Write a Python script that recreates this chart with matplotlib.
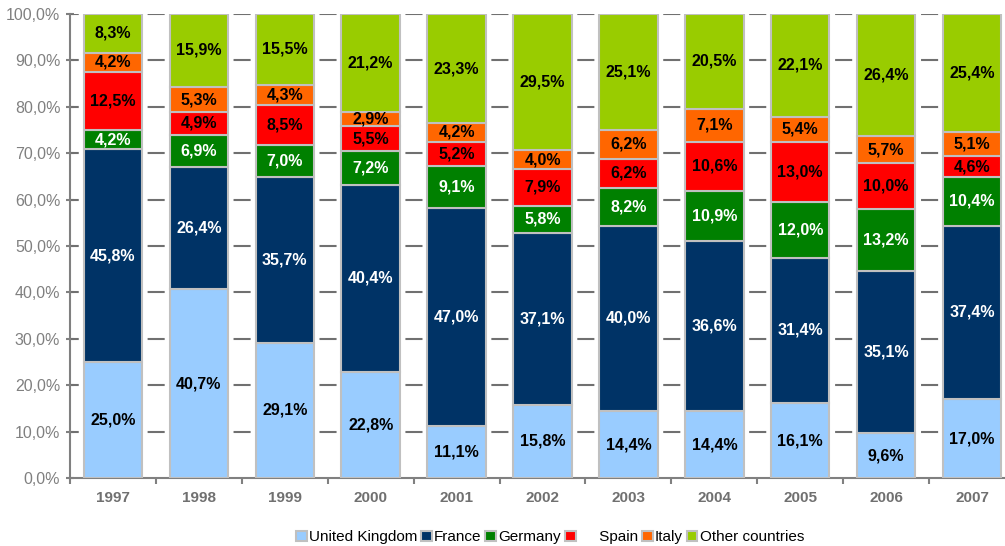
import numpy as np
import matplotlib.pyplot as plt

plt.rcParams['font.family'] = ['Liberation Sans', 'DejaVu Sans']

years = ['1997', '1998', '1999', '2000', '2001', '2002', '2003', '2004', '2005', '2006', '2007']
uk = [25.0, 40.7, 29.1, 22.8, 11.1, 15.8, 14.4, 14.4, 16.1, 9.6, 17.0]
france = [45.8, 26.4, 35.7, 40.4, 47.0, 37.1, 40.0, 36.6, 31.4, 35.1, 37.4]
germany = [4.2, 6.9, 7.0, 7.2, 9.1, 5.8, 8.2, 10.9, 12.0, 13.2, 10.4]
spain = [12.5, 4.9, 8.5, 5.5, 5.2, 7.9, 6.2, 10.6, 13.0, 10.0, 4.6]
italy = [4.2, 5.3, 4.3, 2.9, 4.2, 4.0, 6.2, 7.1, 5.4, 5.7, 5.1]
other = [8.3, 15.9, 15.5, 21.2, 23.3, 29.5, 25.1, 20.5, 22.1, 26.4, 25.4]

series = [
    ('United Kingdom', uk, '#99ccff', 'black'),
    ('France', france, '#003366', 'white'),
    ('Germany', germany, '#008000', 'white'),
    ('     Spain', spain, '#ff0000', 'black'),
    ('Italy', italy, '#ff6600', 'black'),
    ('Other countries', other, '#99cc00', 'black'),
]

fig = plt.figure(figsize=(10.05, 5.46), dpi=100)
# plot area runs past the right edge like in the original
ax = fig.add_axes([70 / 1005, (546 - 478) / 546, 945 / 1005, 464 / 546])

x = np.arange(len(years))
bottom = np.zeros(len(years))
for name, vals, color, tcol in series:
    vals = np.array(vals)
    ax.bar(x, vals, width=0.68, bottom=bottom, color=color, edgecolor='#c0c0c0',
           linewidth=1.5, label=name, zorder=3)
    for xi, b, v in zip(x, bottom, vals):
        ax.text(xi, b + v / 2, f'{v:.1f}%'.replace('.', ','), ha='center', va='center',
                color=tcol, fontsize=11.5, fontweight='bold', zorder=4)
    bottom += vals

ax.set_xlim(-0.5, len(years) - 0.5)
ax.set_ylim(0, 100)
ax.set_yticks(np.arange(0, 101, 10))
ax.set_yticklabels([f'{v},0%' for v in range(0, 101, 10)], color='#808080', fontsize=11.5)
ax.set_xticks(x)
ax.set_xticklabels(years, fontweight='bold', color='#707070', fontsize=11)
ax.set_xticks(np.arange(-0.5, len(years)), minor=True)
ax.tick_params(axis='x', which='major', length=0, pad=9)
ax.tick_params(axis='x', which='minor', length=4, color='#808080', width=1.5, direction='out')
ax.tick_params(axis='y', length=6, color='#808080', width=1.5, direction='inout', pad=4)

# dashed gridlines behind the bars, dash period = 1/3 of a category so a dash sits in each gap
ax.hlines(np.arange(10, 101, 10), -0.5, len(years) - 0.5, colors='#707070',
          linestyles=(4.0, (8.2, 5.55)), linewidth=1.5, zorder=2)

for s in ['top', 'right']:
    ax.spines[s].set_visible(False)
for s in ['left', 'bottom']:
    ax.spines[s].set_color('#808080')
    ax.spines[s].set_linewidth(1.5)

fig.legend(loc='lower center', bbox_to_anchor=(550 / 1005, -0.022), ncol=6, frameon=False,
           fontsize=11, handlelength=0.7, handleheight=0.7, handletextpad=0.15, columnspacing=0.25)

fig.savefig('out.png', dpi=100)
